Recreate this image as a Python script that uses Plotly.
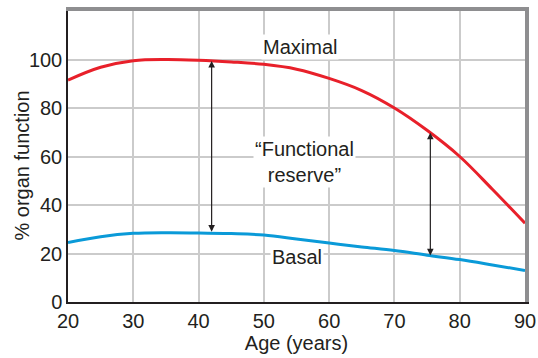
import plotly.graph_objects as go

ages = [20, 25, 30, 35, 40, 45, 50, 55, 60, 65, 70, 75, 80, 85, 90]
maximal = [91.5, 96.8, 99.5, 100.0, 99.7, 99.0, 98.0, 96.0, 92.2, 87.2, 80.0, 70.8, 60.0, 46.5, 32.5]
basal = [24.5, 26.9, 28.3, 28.6, 28.5, 28.2, 27.6, 26.0, 24.3, 22.7, 21.2, 19.3, 17.5, 15.3, 13.0]

x_ticks = [20, 30, 40, 50, 60, 70, 80, 90]
y_ticks = [0, 20, 40, 60, 80, 100]

# reserve arrows: (age, basal end, maximal end)
arrow_age = [42, 75.5]
arrow_low = [28.4, 18.6]
arrow_high = [99.4, 69.8]

labels = ["Maximal", "\u201cFunctional<br>reserve\u201d", "Basal"]
label_x = [55.5, 56.3, 55.1]
label_y = [105.2, 57.8, 18.5]

x_title = "Age (years)"
y_title = "% organ function"

txt = "#231f20"
frame = "#8e8e90"
font = "Liberation Sans, Arial, Helvetica, sans-serif"
fs = 20

fig = go.Figure()
fig.add_trace(go.Scatter(x=ages, y=maximal, mode="lines", line=dict(color="#e8202a", width=3, shape="spline"),
                         showlegend=False, hoverinfo="skip"))
fig.add_trace(go.Scatter(x=ages, y=basal, mode="lines", line=dict(color="#0a9ad8", width=3, shape="spline"),
                         showlegend=False, hoverinfo="skip"))
# invisible trace to carry the top/right frame axes
fig.add_trace(go.Scatter(x=ages, y=basal, xaxis="x2", yaxis="y2", mode="lines", opacity=0,
                         line=dict(width=0), showlegend=False, hoverinfo="skip"))

for a, lo, hi in zip(arrow_age, arrow_low, arrow_high):
    fig.add_annotation(x=a, y=hi, ax=a, ay=lo, axref="x", ayref="y", xref="x", yref="y",
                       text="", showarrow=True, arrowhead=2, arrowside="end+start",
                       arrowsize=1.1, arrowwidth=1.2, arrowcolor="#231f20", standoff=0, startstandoff=0)

for t, lx, ly in zip(labels, label_x, label_y):
    fig.add_annotation(x=lx, y=ly, xref="x", yref="y", text=t, showarrow=False,
                       font=dict(size=fs, color=txt, family=font), bgcolor="white", borderpad=1)

# y axis title placed as rotated annotation
fig.add_annotation(x=-0.1, y=0.47, xref="paper", yref="paper", text=y_title, textangle=-90,
                   showarrow=False, xanchor="center", yanchor="middle",
                   font=dict(size=fs, color=txt, family=font))

fig.update_layout(
    width=538, height=358,
    margin=dict(l=68, r=13, t=11, b=56),
    paper_bgcolor="white", plot_bgcolor="white",
    font=dict(family=font, size=fs, color=txt),
    hovermode=False,
    xaxis=dict(range=[20, 90], tickvals=x_ticks, showgrid=True, gridcolor="#cbcbcb", gridwidth=1.5,
               showline=True, linecolor="#231f20", linewidth=1.5, ticks="", zeroline=False,
               automargin=False,
               title=dict(text=x_title, font=dict(size=fs), standoff=4),
               tickfont=dict(size=fs)),
    yaxis=dict(range=[0, 120], tickvals=y_ticks, showgrid=True, gridcolor="#cbcbcb", gridwidth=1.5,
               showline=True, linecolor="#231f20", linewidth=1.5, ticks="", zeroline=False,
               automargin=False, tickfont=dict(size=fs)),
    xaxis2=dict(range=[20, 90], overlaying="x", side="top", showline=True, linecolor=frame, linewidth=4,
                showgrid=False, showticklabels=False, ticks="", zeroline=False, automargin=False),
    yaxis2=dict(range=[0, 120], overlaying="y", side="right", showline=True, linecolor=frame, linewidth=4,
                showgrid=False, showticklabels=False, ticks="", zeroline=False, automargin=False),
)

fig.write_html("out.html", config={"displayModeBar": False},
               post_script="document.body.style.margin='0';document.body.style.overflow='hidden';")
